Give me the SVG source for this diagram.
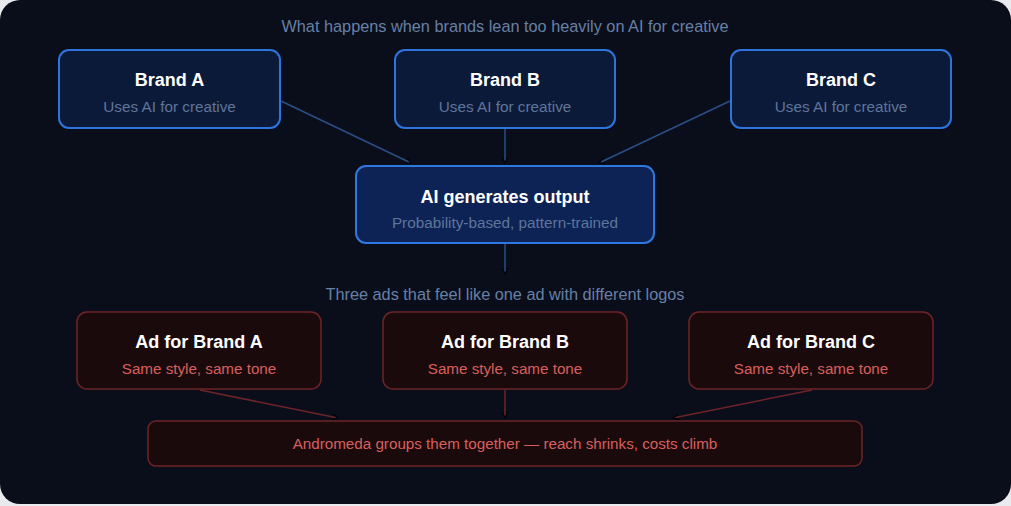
<svg xmlns="http://www.w3.org/2000/svg" width="1011" height="506" viewBox="0 0 1011 506">
<defs>
<style>
.t{font-family:"Liberation Sans",Arial,sans-serif;text-anchor:middle}
.cap{font-size:16.3px;fill:#6780a6}
.bt{font-size:18px;font-weight:bold;fill:#ffffff}
.bs{font-size:15.3px;fill:#5f7599}
.as{font-size:15.2px;fill:#d95f5c}
.blue{fill:#0c1a3a;stroke:#2d74dc;stroke-width:2}
.red{fill:#1a0a0c;stroke:#6e2427;stroke-width:1.5}
.lb{stroke:#2a4f86;stroke-width:1.5;fill:none}
.lr{stroke:#6e2427;stroke-width:1.5;fill:none}
</style>
<marker id="ah" viewBox="0 0 10 10" refX="9" refY="5" markerWidth="5" markerHeight="5" orient="auto">
<path d="M1,1 L9,5 L1,9" fill="none" stroke="#03050a" stroke-width="2"/>
</marker>
</defs>
<rect x="0" y="0" width="1011" height="506" fill="#e8eaee"/>
<rect x="0" y="0" width="1011" height="504" rx="20" fill="#0a0e1a"/>
<text class="t cap" x="505" y="32">What happens when brands lean too heavily on AI for creative</text>
<g id="connectors">
<line class="lb" x1="281" y1="101" x2="411" y2="163" marker-end="url(#ah)"/>
<line class="lb" x1="505" y1="129" x2="505" y2="163" marker-end="url(#ah)"/>
<line class="lb" x1="730" y1="101" x2="599" y2="163" marker-end="url(#ah)"/>
<line class="lb" x1="505" y1="244" x2="505" y2="274" marker-end="url(#ah)"/>
<line class="lr" x1="200" y1="390" x2="338" y2="418" marker-end="url(#ah)"/>
<line class="lr" x1="505" y1="390" x2="505" y2="418" marker-end="url(#ah)"/>
<line class="lr" x1="812" y1="390" x2="673" y2="418" marker-end="url(#ah)"/>
</g>
<g id="brandA">
<rect class="blue" x="59" y="50" width="221" height="78" rx="10"/>
<text class="t bt" x="169.5" y="86">Brand A</text>
<text class="t bs" x="169.5" y="112">Uses AI for creative</text>
</g>
<g id="brandB">
<rect class="blue" x="395" y="50" width="220" height="78" rx="10"/>
<text class="t bt" x="505" y="86">Brand B</text>
<text class="t bs" x="505" y="112">Uses AI for creative</text>
</g>
<g id="brandC">
<rect class="blue" x="731" y="50" width="220" height="78" rx="10"/>
<text class="t bt" x="841" y="86">Brand C</text>
<text class="t bs" x="841" y="112">Uses AI for creative</text>
</g>
<g id="ai">
<rect x="356" y="166" width="298" height="77" rx="10" fill="#0d2356" stroke="#2f78e0" stroke-width="2"/>
<text class="t bt" x="505" y="203">AI generates output</text>
<text class="t bs" x="505" y="228">Probability-based, pattern-trained</text>
</g>
<text class="t cap" x="505" y="300">Three ads that feel like one ad with different logos</text>
<g id="adA">
<rect class="red" x="77" y="312" width="244" height="77" rx="10"/>
<text class="t bt" x="199" y="348">Ad for Brand A</text>
<text class="t as" x="199" y="374">Same style, same tone</text>
</g>
<g id="adB">
<rect class="red" x="383" y="312" width="244" height="77" rx="10"/>
<text class="t bt" x="505" y="348">Ad for Brand B</text>
<text class="t as" x="505" y="374">Same style, same tone</text>
</g>
<g id="adC">
<rect class="red" x="689" y="312" width="244" height="77" rx="10"/>
<text class="t bt" x="811" y="348">Ad for Brand C</text>
<text class="t as" x="811" y="374">Same style, same tone</text>
</g>
<g id="andromeda">
<rect class="red" x="148" y="421" width="714" height="45" rx="8"/>
<text class="t as" x="505" y="449">Andromeda groups them together — reach shrinks, costs climb</text>
</g>
</svg>
